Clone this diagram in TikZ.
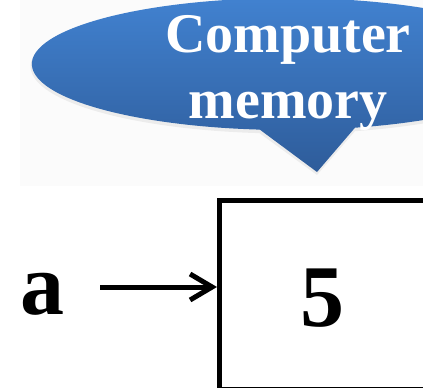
\documentclass[tikz,border=0pt]{standalone}
\usepackage{fontspec}
\setmainfont{Liberation Serif}
\usetikzlibrary{arrows.meta}
\definecolor{calltop}{HTML}{4283D2}
\definecolor{callbot}{HTML}{2E5C9A}
\tikzset{
  calltext/.style={text=white, font=\fontsize{56}{66}\selectfont\bfseries, inner sep=0pt},
  bigtext/.style={text=black, font=\fontsize{88}{100}\selectfont\bfseries, inner sep=0pt},
  memcell/.style={draw=black, line width=5pt, minimum width=300pt, minimum height=189pt, inner sep=0pt},
  pointer/.style={draw=black, line width=5pt, -{Straight Barb[length=22pt, width=26pt]}},
}
\begin{document}
\begin{tikzpicture}[x=1pt, y=-1pt]
\useasboundingbox (0,0) rectangle (423,388);
\clip (0,0) rectangle (423,388);
\fill[white] (0,0) rectangle (423,388);
\fill[black!1.5] (20,0) rectangle (423,186);
% shadow
\fill[black, opacity=0.06] (355,131.2) arc[start angle=74.8, end angle=-263.7, x radius=257, y radius=67] -- (317,175) -- cycle;
% callout
\shade[top color=calltop, bottom color=callbot] (355,127.7) arc[start angle=74.8, end angle=-263.7, x radius=256, y radius=66] -- (317,172) -- cycle;
\node[calltext, anchor=base] (comp) at (288,52) {Computer};
\node[calltext, anchor=base] (mem) at (288,118) {memory};
% memory cell
\node[memcell, anchor=north west] (box) at (217,198) {};
\node[bigtext] (five) at (322,298) {5};
% variable
\node[bigtext] (a) at (42,294.5) {a};
\coordinate (tail) at (100,287);
\draw[pointer] (tail) -- (tail -| box.west);
\end{tikzpicture}
\end{document}
